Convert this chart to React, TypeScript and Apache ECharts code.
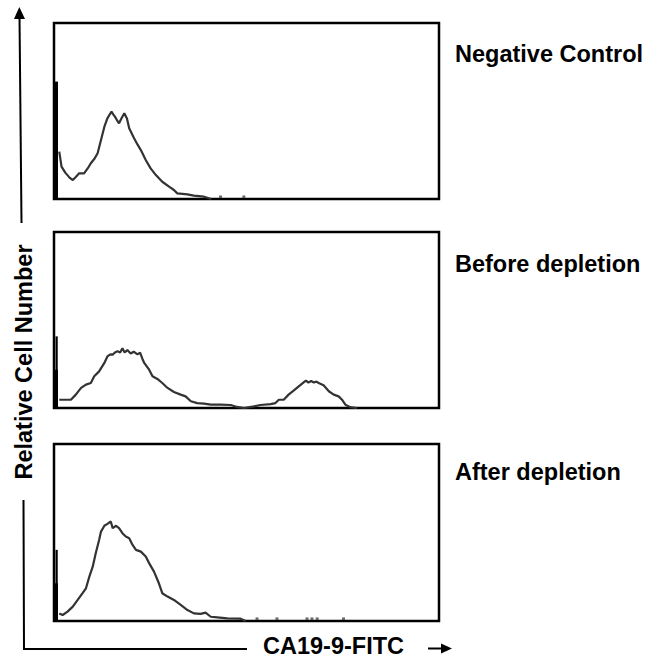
import React, { useEffect, useRef } from "react";
import * as echarts from "echarts";

// Panel titles
const panelTitles = ["Negative Control", "Before depletion", "After depletion"];
const xAxisTitle = "CA19-9-FITC";
const yAxisTitle = "Relative Cell Number";

// Histogram traces: [channel (0-1024), relative count (0-100)]
const negativeControl: number[][] = [
  [14, 26.9], [20, 18.4], [30, 15], [42, 12], [50, 10.8], [58, 12.5], [67, 14.6], [80, 14.6],
  [90, 17.5], [98, 20.3], [108, 23], [116, 26], [125, 33.5], [134, 41.1], [142, 45.8],
  [148, 48], [153, 49.6], [158, 48], [162, 46.8], [167, 45], [173, 43], [180, 46], [187, 48.7],
  [194, 45.8], [200, 40.2], [213, 34.5], [222, 31], [231, 27.8], [244, 22.2], [257, 17.4],
  [271, 13.6], [288, 9.8], [306, 7], [319, 5.1], [328, 3.2], [355, 2.6], [372, 1.9],
  [399, 1.3], [408, 0.7], [418, 0],
];
const beforeDepletion: number[][] = [
  [14, 4.7], [45, 4.7], [58, 7.6], [72, 11.4], [85, 13.3], [98, 14.2], [107, 18], [120, 20.8],
  [134, 25.6], [142, 29.3], [150, 30.5], [156, 30.3], [162, 31.5], [169, 32.2], [176, 31.5],
  [182, 34], [188, 31.5], [195, 33], [204, 31], [212, 32], [222, 30.5], [229, 31.5], [235, 28],
  [240, 25.6], [253, 21.8], [262, 18], [275, 16.5], [288, 14.2], [302, 11.4], [319, 9.1],
  [337, 7.6], [350, 6.6], [364, 3.8], [381, 2.8], [399, 2.5], [417, 1.9], [443, 1.9],
  [470, 1.7], [487, 0.6], [505, 0], [532, 0.9], [549, 1.7], [576, 2.2], [589, 2.8],
  [598, 4.7], [611, 4.7], [624, 7.6], [638, 10], [651, 12.3], [664, 14.5], [670, 15.5],
  [677, 14.5], [684, 15.3], [691, 14.5], [698, 15], [704, 14.2], [717, 12.9], [731, 9.5],
  [744, 7.6], [757, 6.6], [766, 4.7], [775, 1.9], [788, 0.5], [806, 0],
];
const afterDepletion: number[][] = [
  [14, 4.3], [23, 3.4], [36, 5.3], [50, 8.1], [63, 11.9], [76, 15.7], [85, 18.5], [94, 25.1],
  [103, 30.7], [111, 38.3], [120, 45.8], [125, 50.5], [134, 53.8], [142, 54.9], [151, 56.2],
  [156, 52.5], [165, 53.8], [173, 52.5], [182, 49.6], [191, 47.7], [200, 46.8], [209, 43],
  [218, 40.2], [231, 39.2], [244, 36.4], [253, 32.7], [266, 27.9], [279, 21.3], [288, 15.7],
  [302, 13.8], [319, 11.9], [337, 9.1], [355, 6.2], [372, 4.3], [390, 4], [403, 4.7],
  [417, 2.4], [434, 2.1], [461, 1.5], [496, 1.3], [510, 0],
];
const traces = [negativeControl, beforeDepletion, afterDepletion];

// Sparse events on the baseline (channel)
const specks: number[][] = [[443, 505], [], [540, 593, 673, 686, 700, 770]];
// Channel-0 pile-up bin heights (tall thin part, thick lower part)
const spikeTall = [66.6, 40.7, 40.2];
const spikeThick = [66.6, 21.8, 21.3];

const FONT = '"Liberation Sans", Arial, Helvetica, sans-serif';

export default function App() {
  const ref = useRef<HTMLDivElement>(null);
  useEffect(() => {
    if (!ref.current) return;
    const chart = echarts.init(ref.current, null, { renderer: "svg" });
    const gridTops = [23, 232, 444];
    const gridHeights = [176, 176, 177];
    const grids = gridTops.map((t, i) => ({
      left: 54, width: 385, top: t, height: gridHeights[i],
      show: true, borderColor: "#000", borderWidth: 2.5, backgroundColor: "#fff",
    }));
    const xAxes = traces.map((_, i) => ({
      type: "value", gridIndex: i, min: 0, max: 1024,
      axisLine: { show: false }, axisTick: { show: false }, axisLabel: { show: false }, splitLine: { show: false },
    }));
    const yAxes = traces.map((_, i) => ({
      type: "value", gridIndex: i, min: 0, max: 100,
      axisLine: { show: false }, axisTick: { show: false }, axisLabel: { show: false }, splitLine: { show: false },
    }));
    const series: any[] = [];
    traces.forEach((tr, i) => {
      series.push({
        type: "line", xAxisIndex: i, yAxisIndex: i, data: tr, symbol: "none",
        lineStyle: { color: "#333", width: 2.2 }, z: 3,
      });
      series.push({
        type: "line", xAxisIndex: i, yAxisIndex: i, data: [[7, 0], [7, spikeTall[i]]], symbol: "none",
        lineStyle: { color: "#000", width: 2.2 }, z: 4,
      });
      series.push({
        type: "line", xAxisIndex: i, yAxisIndex: i, data: [[6, 0], [6, spikeThick[i]]], symbol: "none",
        lineStyle: { color: "#000", width: 3.5 }, z: 4,
      });
      if (specks[i].length) {
        series.push({
          type: "scatter", xAxisIndex: i, yAxisIndex: i, data: specks[i].map((c) => [c, 1.3]),
          symbol: "rect", symbolSize: [3, 2.5], itemStyle: { color: "#444" }, z: 3,
        });
      }
    });
    const textStyle = (extra: any) => ({
      fontFamily: FONT, fontWeight: "bold", fontSize: 23.5, fill: "#000", ...extra,
    });
    const graphic: any[] = [
      // vertical axis arrow (upper part)
      { type: "line", shape: { x1: 19.5, y1: 16, x2: 21.5, y2: 223 }, style: { stroke: "#000", lineWidth: 2 } },
      { type: "polygon", shape: { points: [[19.3, 7], [14, 19], [25, 19]] }, style: { fill: "#000" } },
      // lower corner
      { type: "polyline", shape: { points: [[23.5, 500], [24, 649], [247, 649]] }, style: { stroke: "#000", lineWidth: 2, fill: null } },
      // x arrow
      { type: "line", shape: { x1: 428, y1: 648.5, x2: 444, y2: 648.5 }, style: { stroke: "#000", lineWidth: 2 } },
      { type: "polygon", shape: { points: [[452, 648.5], [441, 643.5], [441, 653.5]] }, style: { fill: "#000" } },
      { type: "text", x: 263, y: 645.5, style: textStyle({ text: xAxisTitle, align: "left", verticalAlign: "middle" }) },
      { type: "text", x: 24, y: 362, rotation: Math.PI / 2, style: textStyle({ text: yAxisTitle, align: "center", verticalAlign: "middle" }) },
    ];
    const titleYs = [54, 264, 472];
    panelTitles.forEach((t, i) => {
      graphic.push({ type: "text", x: 455, y: titleYs[i], style: textStyle({ text: t, align: "left", verticalAlign: "middle" }) });
    });
    chart.setOption({
      animation: false,
      backgroundColor: "#fff",
      grid: grids,
      xAxis: xAxes,
      yAxis: yAxes,
      series,
      graphic,
    });
    return () => chart.dispose();
  }, []);
  return <div ref={ref} style={{ position: "fixed", left: 0, top: 0, width: 648, height: 657 }} />;
}
